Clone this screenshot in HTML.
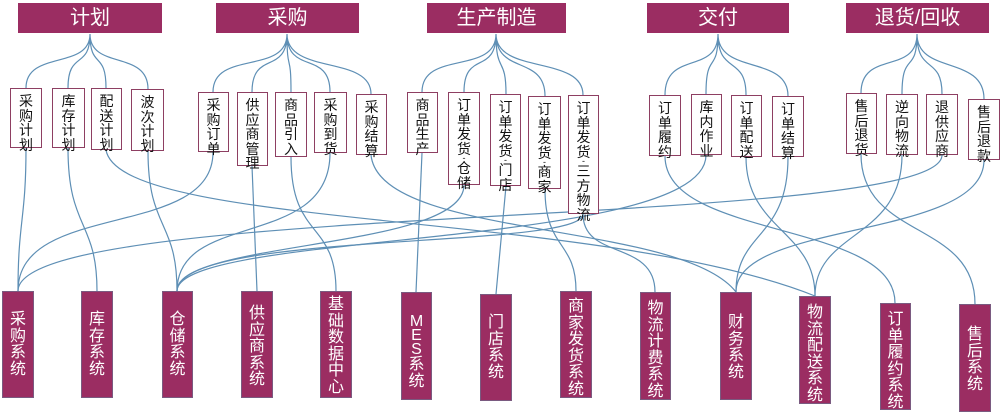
<!DOCTYPE html>
<html><head><meta charset="utf-8"><style>
body{margin:0;width:1001px;height:412px;background:#fff;position:relative;overflow:hidden;font-family:"Liberation Sans","Noto Sans CJK SC",sans-serif}
.h{position:absolute;top:3px;height:30px;background:#9b2d62;color:#fff;font-size:20px;line-height:30px;text-align:center}
.m{position:absolute;box-sizing:border-box;border:1.5px solid #8e3f62;background:#fff;color:#111;font-size:14px;line-height:14.5px;text-align:center;padding-top:5px}
.s{position:absolute;box-sizing:border-box;background:#9b2d62;border:1px solid #7a5a80;color:#fff;font-size:16px;line-height:16.5px;text-align:center;padding-top:20px}
.d{display:block;font-size:9px;line-height:5px;height:5px}
svg{position:absolute;left:0;top:0}
</style></head><body>
<svg width="1001" height="412" fill="none" stroke="#5e8fb5" stroke-width="1.2">
<path d="M90 34 C90 70,26 50,26 88 M90 34 C90 70,68 50,68 88 M90 34 C90 70,106 50,106 88 M90 34 C90 70,148 50,148 89"/>
<path d="M287 34 C287 75,213 50,213 92 M287 34 C287 75,252 50,252 92 M287 34 C287 75,291 50,291 92 M287 34 C287 75,330 50,330 92 M287 34 C287 75,371 55,371 94"/>
<path d="M496 34 C496 75,422 50,422 92 M496 34 C496 75,464 50,464 92 M496 34 C496 75,506 55,506 94 M496 34 C496 75,545 55,545 96 M496 34 C496 75,583 55,583 95"/>
<path d="M718 34 C718 75,665 50,665 95 M718 34 C718 75,706 50,706 94 M718 34 C718 75,746 55,746 95 M718 34 C718 75,788 55,788 96"/>
<path d="M917 34 C917 75,861 50,861 93 M917 34 C917 75,902 50,902 94 M917 34 C917 75,942 55,942 94 M917 34 C917 75,984 55,984 99"/>
<path d="M26 148 C26 220,18 220,18 291"/>
<path d="M68 148 C68 230,97 220,97 291"/>
<path d="M106 150 C120 230,600 210,815 296"/>
<path d="M148 151 C148 230,177 220,177 291"/>
<path d="M213 152 C213 240,18 200,18 291"/>
<path d="M252 166 L257 291"/>
<path d="M291 157 C291 240,336 220,336 291"/>
<path d="M330 153 C330 250,177 210,177 291"/>
<path d="M371 155 C380 240,680 220,736 292"/>
<path d="M422 153 L416 292"/>
<path d="M464 185 C464 250,177 240,177 291"/>
<path d="M506 186 L496 294"/>
<path d="M545 189 C545 250,576 240,576 291"/>
<path d="M583 214 C583 260,655 240,655 292"/>
<path d="M583 214 C583 250,177 230,177 291"/>
<path d="M665 156 C665 240,895 220,895 303"/>
<path d="M706 155 C706 250,177 230,177 291"/>
<path d="M746 157 C746 230,815 230,815 296"/>
<path d="M788 157 C788 240,736 230,736 292"/>
<path d="M861 154 C861 240,975 220,975 304"/>
<path d="M902 155 C902 240,815 230,815 296"/>
<path d="M942 155 C942 230,18 200,18 291"/>
<path d="M984 160 C984 240,736 220,736 292"/>
</svg>
<div class="h" style="left:18px;width:144px">计划</div>
<div class="h" style="left:216px;width:143px">采购</div>
<div class="h" style="left:427px;width:139px">生产制造</div>
<div class="h" style="left:647px;width:142px">交付</div>
<div class="h" style="left:846px;width:143px">退货/回收</div>

<div class="m" style="left:10px;top:88px;width:32px;height:60px">采<br>购<br>计<br>划</div>
<div class="m" style="left:52px;top:88px;width:33px;height:60px">库<br>存<br>计<br>划</div>
<div class="m" style="left:91px;top:88px;width:31px;height:62px">配<br>送<br>计<br>划</div>
<div class="m" style="left:131px;top:89px;width:33px;height:62px">波<br>次<br>计<br>划</div>
<div class="m" style="left:198px;top:92px;width:31px;height:60px">采<br>购<br>订<br>单</div>
<div class="m" style="left:237px;top:92px;width:31px;height:74px">供<br>应<br>商<br>管<br>理</div>
<div class="m" style="left:275px;top:92px;width:32px;height:65px">商<br>品<br>引<br>入</div>
<div class="m" style="left:314px;top:92px;width:33px;height:61px">采<br>购<br>到<br>货</div>
<div class="m" style="left:356px;top:94px;width:31px;height:61px">采<br>购<br>结<br>算</div>
<div class="m" style="left:407px;top:92px;width:31px;height:61px">商<br>品<br>生<br>产</div>
<div class="m" style="left:448px;top:92px;width:32px;height:93px">订<br>单<br>发<br>货<span class="d">-</span>仓<br>储</div>
<div class="m" style="left:490px;top:94px;width:31px;height:92px">订<br>单<br>发<br>货<span class="d">-</span>门<br>店</div>
<div class="m" style="left:528px;top:96px;width:33px;height:93px">订<br>单<br>发<br>货<span class="d">-</span>商<br>家</div>
<div class="m" style="left:568px;top:95px;width:31px;height:119px">订<br>单<br>发<br>货<span class="d">-</span>三<br>方<br>物<br>流</div>
<div class="m" style="left:649px;top:95px;width:32px;height:61px">订<br>单<br>履<br>约</div>
<div class="m" style="left:691px;top:94px;width:31px;height:61px">库<br>内<br>作<br>业</div>
<div class="m" style="left:731px;top:95px;width:31px;height:62px">订<br>单<br>配<br>送</div>
<div class="m" style="left:772px;top:96px;width:32px;height:61px">订<br>单<br>结<br>算</div>
<div class="m" style="left:846px;top:93px;width:31px;height:61px">售<br>后<br>退<br>货</div>
<div class="m" style="left:886px;top:94px;width:32px;height:61px">逆<br>向<br>物<br>流</div>
<div class="m" style="left:926px;top:94px;width:32px;height:61px">退<br>供<br>应<br>商</div>
<div class="m" style="left:968px;top:99px;width:32px;height:61px">售<br>后<br>退<br>款</div>

<div class="s" style="left:2px;top:291px;width:32px;height:107px">采<br>购<br>系<br>统</div>
<div class="s" style="left:81px;top:291px;width:32px;height:107px">库<br>存<br>系<br>统</div>
<div class="s" style="left:162px;top:291px;width:31px;height:107px">仓<br>储<br>系<br>统</div>
<div class="s" style="left:241px;top:291px;width:32px;height:107px;padding-top:14px">供<br>应<br>商<br>系<br>统</div>
<div class="s" style="left:320px;top:291px;width:32px;height:107px;padding-top:5px">基<br>础<br>数<br>据<br>中<br>心</div>
<div class="s" style="left:401px;top:292px;width:31px;height:108px;padding-top:22px;line-height:14px">M<br>E<br>S<br><span style="line-height:16.5px">系<br>统</span></div>
<div class="s" style="left:480px;top:294px;width:32px;height:107px">门<br>店<br>系<br>统</div>
<div class="s" style="left:560px;top:291px;width:32px;height:107px;padding-top:7px">商<br>家<br>发<br>货<br>系<br>统</div>
<div class="s" style="left:640px;top:292px;width:31px;height:108px;padding-top:8px">物<br>流<br>计<br>费<br>系<br>统</div>
<div class="s" style="left:720px;top:292px;width:32px;height:108px;padding-top:22px">财<br>务<br>系<br>统</div>
<div class="s" style="left:799px;top:296px;width:32px;height:108px;padding-top:8px">物<br>流<br>配<br>送<br>系<br>统</div>
<div class="s" style="left:880px;top:303px;width:31px;height:107px;padding-top:8px">订<br>单<br>履<br>约<br>系<br>统</div>
<div class="s" style="left:959px;top:304px;width:32px;height:108px;padding-top:22px">售<br>后<br>系<br>统</div>
</body></html>
